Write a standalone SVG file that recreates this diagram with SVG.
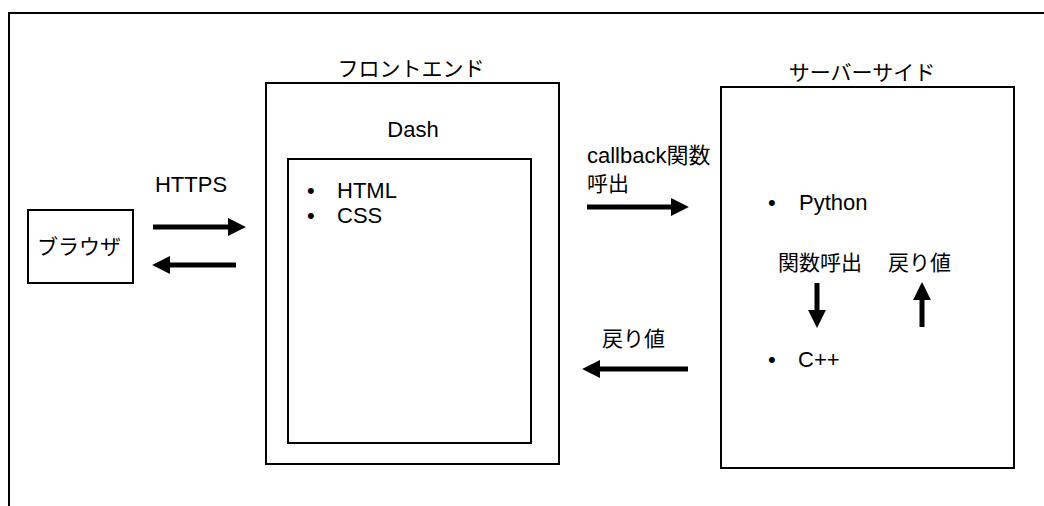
<svg xmlns="http://www.w3.org/2000/svg" width="1044" height="506" viewBox="0 0 1044 506">
<style>
.box{fill:#fff;stroke:#000;stroke-width:2}
.t{font-family:"Liberation Sans","Noto Sans CJK JP",sans-serif;font-size:22px;fill:#000}
.j{font-family:"Noto Sans CJK JP",sans-serif;font-size:21px;fill:#000}
.c{text-anchor:middle}
.arr{stroke:#000;stroke-width:5;fill:none;marker-end:url(#ah)}
</style>
<defs>
<marker id="ah" markerUnits="userSpaceOnUse" markerWidth="18" markerHeight="18" refX="2" refY="8.5" orient="auto" viewBox="0 0 17 17">
<path d="M0,0 L17,8.5 L0,17 z" fill="#000"/>
</marker>
</defs>
<rect x="9" y="13" width="1100" height="600" fill="#fff" stroke="#000" stroke-width="2"/>
<g id="browser">
<rect class="box" x="28" y="210" width="105" height="73"/>
<text class="j c" x="79" y="254">ブラウザ</text>
</g>
<g id="frontend">
<text class="j c" x="411" y="76">フロントエンド</text>
<rect class="box" x="266" y="83" width="293" height="381"/>
<text class="t c" x="413" y="137">Dash</text>
</g>
<g id="dash-inner">
<rect class="box" x="288" y="159" width="243" height="284"/>
<text class="t" x="307" y="198">•</text>
<text class="t" x="337" y="198">HTML</text>
<text class="t" x="307" y="223">•</text>
<text class="t" x="337" y="223">CSS</text>
</g>
<g id="server">
<text class="j c" x="862" y="80">サーバーサイド</text>
<rect class="box" x="721" y="87" width="293" height="381"/>
<text class="t" x="768" y="210">•</text>
<text class="t" x="799" y="210">Python</text>
<text class="j" x="778" y="270">関数呼出</text>
<text class="j" x="888" y="270">戻り値</text>
<text class="t" x="768" y="367">•</text>
<text class="t" x="798" y="367">C++</text>
</g>
<g id="connectors">
<line class="arr" x1="153" y1="227" x2="230" y2="227"/>
<line class="arr" x1="236" y1="265" x2="168" y2="265"/>
<line class="arr" x1="587" y1="207" x2="673" y2="207"/>
<line class="arr" x1="688" y1="369" x2="598" y2="369"/>
<line class="arr" x1="817" y1="283" x2="817" y2="312"/>
<line class="arr" x1="922" y1="327" x2="922" y2="298"/>
<text class="t c" x="191" y="192">HTTPS</text>
<text class="t" x="587" y="163">callback関数</text>
<text class="j" x="587" y="191">呼出</text>
<text class="j" x="602" y="346">戻り値</text>
</g>
</svg>
